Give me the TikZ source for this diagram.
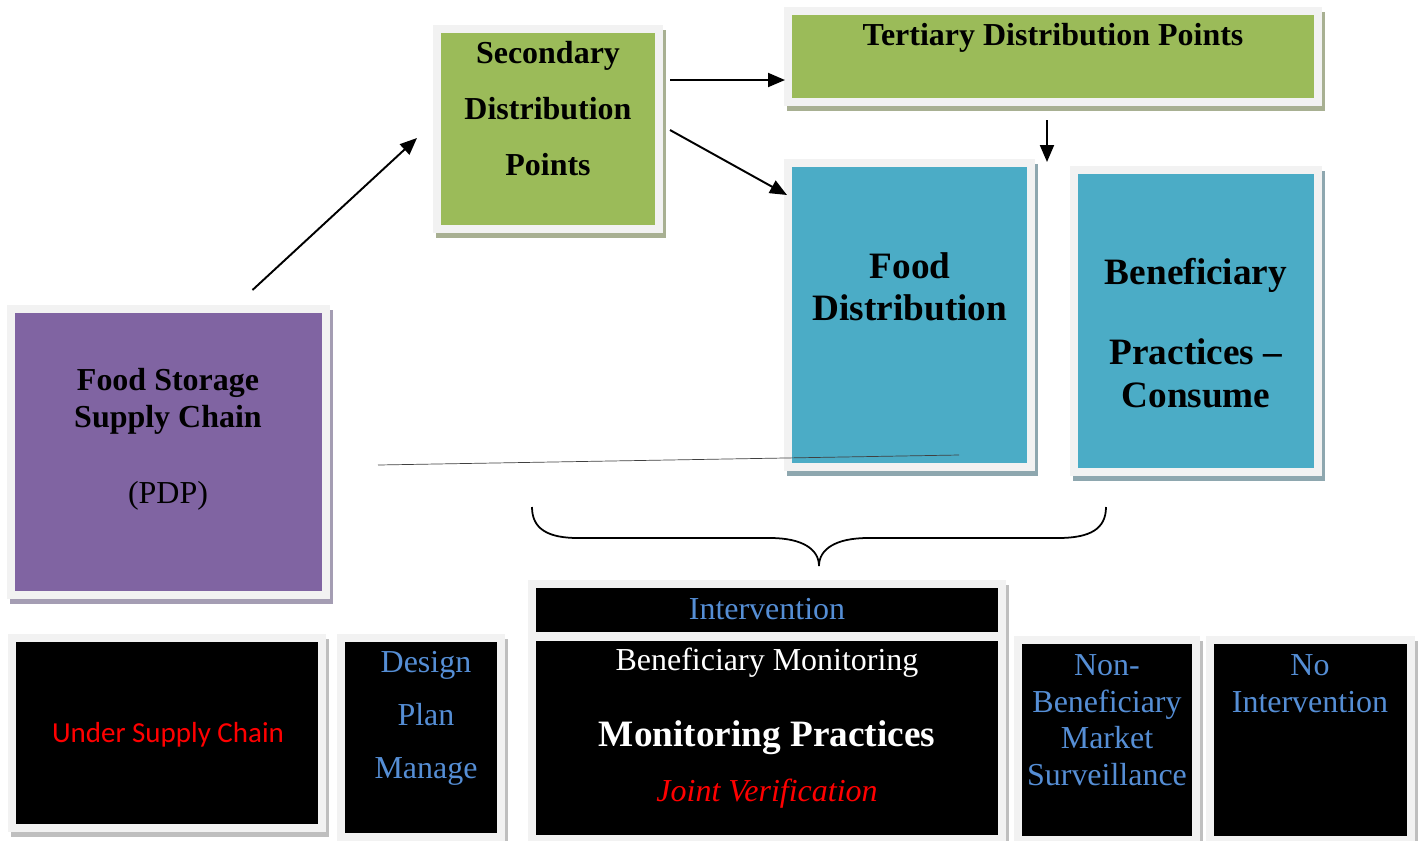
\documentclass[tikz,border=0pt]{standalone}
\usepackage{fontspec}
\setmainfont{Liberation Serif}
\newfontfamily\calibri{Carlito}
\usetikzlibrary{arrows.meta,calc,fit}

\definecolor{framegray}{HTML}{F2F2F2}
\definecolor{storepurple}{HTML}{8064A2}
\definecolor{storeshade}{HTML}{A49DB3}
\definecolor{distgreen}{HTML}{9BBB59}
\definecolor{greenshade}{HTML}{A8B092}
\definecolor{foodblue}{HTML}{4BACC6}
\definecolor{blueshade}{HTML}{8EA7AF}
\definecolor{darkshade}{HTML}{BFBFBF}
\definecolor{labelblue}{HTML}{558ED5}

\tikzset{%
    panel/.style 2 args={rectangle, inner sep=0pt, outer sep=0pt, fill=#1,
        draw=framegray, line width=0.16cm,
        preaction={draw=#2, fill=#2, transform canvas={shift={(3,5)}}}},
    txt/.style={inner sep=0pt, align=center},
    arrow/.style={line width=1.1pt, -{Triangle[length=0.34cm, width=0.28cm]}}
}

\begin{document}
\begin{tikzpicture}[x=0.02cm, y=-0.02cm]
  \useasboundingbox (0,0) rectangle (1418,840);

  % boxes
  \node (store) [panel={storepurple}{storeshade}, fit={(11,309) (326,595)}] {};
  \node (sec) [panel={distgreen}{greenshade}, fit={(437,29) (659,229)}] {};
  \node (ter) [panel={distgreen}{greenshade}, fit={(788,11) (1318,102)}] {};
  \node (fdist) [panel={foodblue}{blueshade}, fit={(788,163) (1031,467)}] {};
  \node (bprac) [panel={foodblue}{blueshade}, fit={(1074,170) (1318,472)}] {};
  \node (under) [panel={black}{darkshade}, fit={(12,638) (322,828)}] {};
  \node (design) [panel={black}{darkshade}, fit={(341,638) (501,837)}] {};
  \node (interv) [panel={black}{darkshade}, fit={(532,584) (1002,636)}] {};
  \node (monit) [panel={black}{darkshade}, fit={(532,637) (1002,839)}] {};
  \node (nonben) [panel={black}{darkshade}, fit={(1018,640) (1196,840)}] {};
  \node (noint) [panel={black}{darkshade}, fit={(1210,640) (1411,840)}] {};

  % arrows
  \draw [arrow] ($(store.north)+(84,-19)$) -- ($(sec.west)+(-20,9)$);
  \draw [arrow] ($(sec.north east)+(11,51)$) -- ($(ter.south west)+(-3,-22)$);
  \draw [arrow] ($(sec.east)+(11,1)$) -- ($(fdist.north west)+(-1,32)$);
  \draw [arrow] ($(ter.south)+(-6,18)$) -- ($(fdist.north east)+(16,-1)$);
  \draw [black!75, line width=0.4pt] ($(store.east)+(52,13)$) -- ($(fdist.south west)+(171,-12)$);

  % brace over the monitoring boxes
  \draw [line width=1pt] (532,507) .. controls (532,529) and (548,538) .. (578,538)
    -- (770,538) .. controls (802,538) and (819,549) .. (819,566)
    .. controls (819,549) and (836,538) .. (868,538)
    -- (1058,538) .. controls (1090,538) and (1106,529) .. (1106,507);

  % texts
  \node (storeT) [txt, anchor=north, font=\fontsize{18.2}{21.05}\selectfont] at (168,368)
    {\textbf{Food Storage}\\\textbf{Supply Chain}\\[22.2pt](PDP)};
  \node (secT) [txt, anchor=north, font=\fontsize{18.2}{31.9}\selectfont\bfseries] at (548,41)
    {Secondary\\Distribution\\Points};
  \node (terT) [txt, anchor=base, font=\fontsize{18.2}{22}\selectfont\bfseries] at (1053,45)
    {Tertiary Distribution Points};
  \node (fdistT) [txt, anchor=north, font=\fontsize{21.2}{23.9}\selectfont\bfseries] at (910,252)
    {Food\\Distribution};
  \node (bpracT) [txt, anchor=north, font=\fontsize{21.2}{24.5}\selectfont\bfseries] at (1196,258)
    {Beneficiary\\[21pt]Practices –\\Consume};
  \node (underT) [txt, anchor=base, text=red, font=\calibri\fontsize{16.5}{20}\selectfont] at (168,742)
    {Under Supply Chain};
  \node (designT) [txt, anchor=north, text=labelblue, font=\fontsize{18.2}{30.2}\selectfont] at (426,651)
    {Design\\Plan\\Manage};
  \node (intervT) [txt, anchor=base, text=labelblue, font=\fontsize{18.2}{22}\selectfont] at (767,619)
    {Intervention};
  \node (monA) [txt, anchor=base, text=white, font=\fontsize{18.2}{22}\selectfont] at (767,670)
    {Beneficiary Monitoring};
  \node (monB) [txt, anchor=base, text=white, font=\fontsize{21.2}{25}\selectfont\bfseries] at (767,746)
    {Monitoring Practices};
  \node (monC) [txt, anchor=base, text=red, font=\fontsize{18.2}{22}\selectfont\itshape] at (767,801)
    {Joint Verification};
  \node (nonbenT) [txt, anchor=north, text=labelblue, font=\fontsize{18.2}{20.9}\selectfont] at (1107,654)
    {Non-\\Beneficiary\\Market\\Surveillance};
  \node (nointT) [txt, anchor=north, text=labelblue, font=\fontsize{18.2}{20.9}\selectfont] at (1310,654)
    {No\\Intervention};
\end{tikzpicture}
\end{document}
